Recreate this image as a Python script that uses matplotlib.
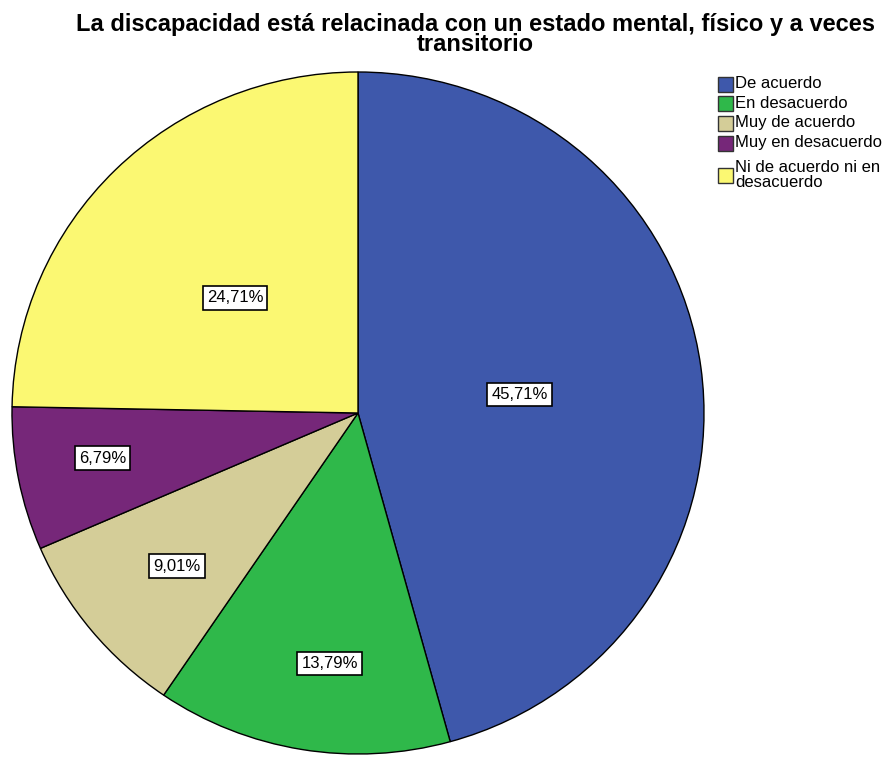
import numpy as np
import matplotlib
matplotlib.use("Agg")
import matplotlib.pyplot as plt
from matplotlib.patches import Rectangle

plt.rcParams['font.family'] = ['Liberation Sans', 'DejaVu Sans']

# Data
categories = ["De acuerdo", "En desacuerdo", "Muy de acuerdo",
              "Muy en desacuerdo", "Ni de acuerdo ni en\ndesacuerdo"]
percentages = [45.71, 13.79, 9.01, 6.79, 24.71]
colors = ["#3E58AB", "#2FB84A", "#D4CD98", "#762779", "#FBF872"]
title = "La discapacidad está relacinada con un estado mental, físico y a veces\ntransitorio"

W, H = 895, 758
fig = plt.figure(figsize=(W / 100, H / 100), dpi=100)

# pie centre and radii in pixels (slightly elliptical like the original)
cx, cy, rx, ry = 358, 413, 346, 341
ax = fig.add_axes([(cx - rx) / W, (H - cy - ry) / H, 2 * rx / W, 2 * ry / H])

wedges, _ = ax.pie(percentages, colors=colors, startangle=90, counterclock=False,
                   wedgeprops=dict(edgecolor="black", linewidth=1.0))
ax.set_aspect("auto")
ax.set_xlim(-1, 1)
ax.set_ylim(-1, 1)
ax.axis("off")

# label distance from centre for each slice
label_r = [0.47, 0.74, 0.69, 0.75, 0.49]
label_shift = [-1, 3, 1, -1, 2]  # angular nudge, degrees
for w, p, r, s in zip(wedges, percentages, label_r, label_shift):
    ang = np.deg2rad((w.theta1 + w.theta2) / 2 + s)
    ax.text(r * np.cos(ang), r * np.sin(ang), f"{p:.2f}%".replace(".", ","),
            ha="center", va="center", fontsize=12,
            bbox=dict(boxstyle="square,pad=0.25", facecolor="white",
                      edgecolor="black", linewidth=1.2))

fig.text(475 / W, 1 - 13 / H, title, ha="center", va="top", multialignment="center",
         fontsize=17, fontweight="bold", linespacing=0.82)

# legend drawn by hand so the rows sit where they do in the original
row_y = [84, 103, 123, 143, 175]
sq = 15
for lab, col, y in zip(categories, colors, row_y):
    fig.add_artist(Rectangle((718 / W, 1 - (y + sq / 2) / H), sq / W, sq / H,
                             transform=fig.transFigure, facecolor=col,
                             edgecolor="#333333", linewidth=1.0))
    fig.text(735 / W, 1 - y / H, lab, ha="left", va="center", fontsize=12,
             linespacing=0.95)

fig.savefig("out.png", dpi=100)
